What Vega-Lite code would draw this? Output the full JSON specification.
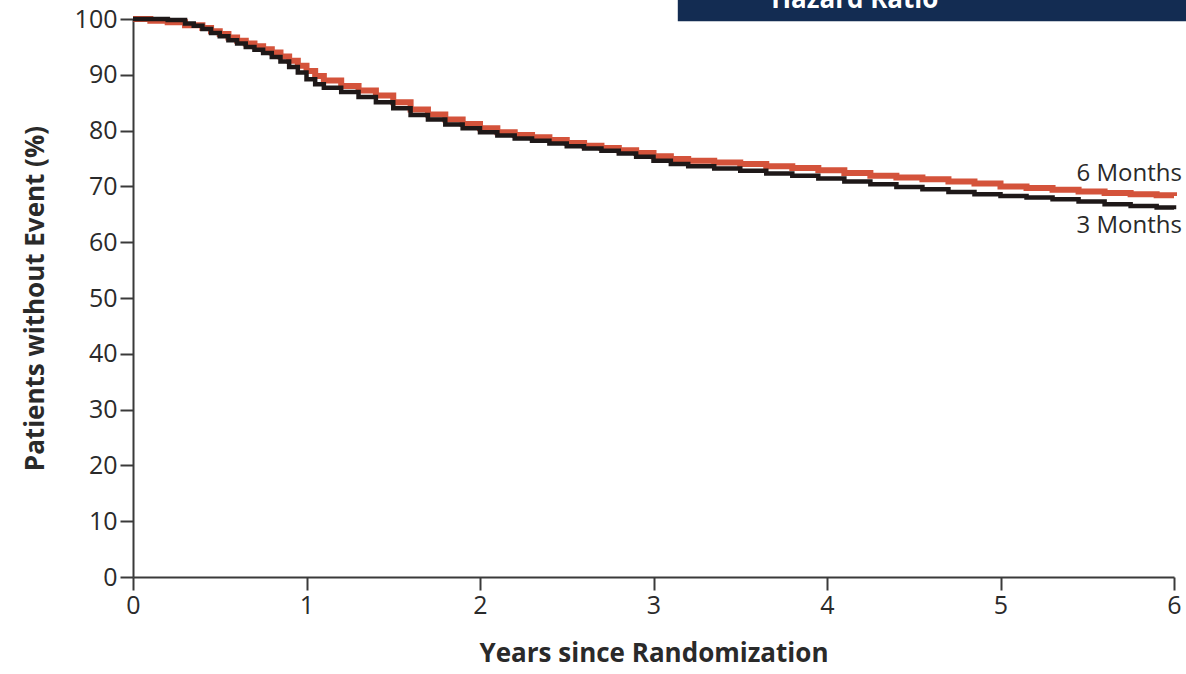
{
  "$schema": "https://vega.github.io/schema/vega-lite/v6.json",
  "autosize": "none",
  "width": 1041,
  "height": 558,
  "padding": {"left": 133, "top": 19, "right": 12, "bottom": 97},
  "background": "white",
  "config": {
    "view": {"stroke": null},
    "font": "Open Sans",
    "axis": {
      "grid": false,
      "domainColor": "#3a3a3a",
      "domainWidth": 2,
      "tickColor": "#3a3a3a",
      "tickWidth": 2,
      "tickSize": 13,
      "labelFont": "Open Sans",
      "labelFontSize": 25,
      "labelColor": "#2a2a2a",
      "labelFlush": false,
      "titleFont": "Open Sans",
      "titleFontSize": 26,
      "titleFontWeight": "bold",
      "titleColor": "#2a2a2a"
    }
  },
  "datasets": {
    "km3": [
      {"t": 0, "s": 100}, {"t": 0.1, "s": 100}, {"t": 0.2, "s": 99.8}, {"t": 0.3, "s": 99.2},
      {"t": 0.35, "s": 98.8}, {"t": 0.4, "s": 98.2}, {"t": 0.45, "s": 97.5}, {"t": 0.5, "s": 96.9},
      {"t": 0.55, "s": 96.2}, {"t": 0.6, "s": 95.6}, {"t": 0.65, "s": 95.0}, {"t": 0.7, "s": 94.5},
      {"t": 0.75, "s": 93.9}, {"t": 0.8, "s": 93.2}, {"t": 0.85, "s": 92.4}, {"t": 0.9, "s": 91.4},
      {"t": 0.95, "s": 90.4}, {"t": 1.0, "s": 89.2}, {"t": 1.05, "s": 88.3}, {"t": 1.1, "s": 87.7},
      {"t": 1.2, "s": 86.9}, {"t": 1.3, "s": 86.0}, {"t": 1.4, "s": 85.1}, {"t": 1.5, "s": 84.0},
      {"t": 1.6, "s": 82.8}, {"t": 1.7, "s": 82.0}, {"t": 1.8, "s": 81.1}, {"t": 1.9, "s": 80.4},
      {"t": 2.0, "s": 79.7}, {"t": 2.1, "s": 79.1}, {"t": 2.2, "s": 78.6}, {"t": 2.3, "s": 78.2},
      {"t": 2.4, "s": 77.7}, {"t": 2.5, "s": 77.2}, {"t": 2.6, "s": 76.8}, {"t": 2.7, "s": 76.4},
      {"t": 2.8, "s": 75.9}, {"t": 2.9, "s": 75.3}, {"t": 3.0, "s": 74.6}, {"t": 3.1, "s": 74.0},
      {"t": 3.2, "s": 73.6}, {"t": 3.35, "s": 73.2}, {"t": 3.5, "s": 72.8}, {"t": 3.65, "s": 72.3},
      {"t": 3.8, "s": 71.9}, {"t": 3.95, "s": 71.4}, {"t": 4.1, "s": 70.9}, {"t": 4.25, "s": 70.4},
      {"t": 4.4, "s": 69.9}, {"t": 4.55, "s": 69.5}, {"t": 4.7, "s": 69.0}, {"t": 4.85, "s": 68.6},
      {"t": 5.0, "s": 68.3}, {"t": 5.15, "s": 68.0}, {"t": 5.3, "s": 67.7}, {"t": 5.45, "s": 67.3},
      {"t": 5.6, "s": 66.8}, {"t": 5.75, "s": 66.5}, {"t": 5.9, "s": 66.2}, {"t": 6.0, "s": 65.9}
    ],
    "km6": [
      {"t": 0, "s": 100}, {"t": 0.1, "s": 99.7}, {"t": 0.2, "s": 99.4}, {"t": 0.3, "s": 98.9},
      {"t": 0.4, "s": 98.4}, {"t": 0.45, "s": 97.8}, {"t": 0.5, "s": 97.3}, {"t": 0.55, "s": 96.7},
      {"t": 0.6, "s": 96.1}, {"t": 0.65, "s": 95.6}, {"t": 0.7, "s": 95.1}, {"t": 0.75, "s": 94.6},
      {"t": 0.8, "s": 94.0}, {"t": 0.85, "s": 93.3}, {"t": 0.9, "s": 92.5}, {"t": 0.95, "s": 91.6},
      {"t": 1.0, "s": 90.7}, {"t": 1.05, "s": 89.8}, {"t": 1.1, "s": 89.0}, {"t": 1.2, "s": 88.0},
      {"t": 1.3, "s": 87.2}, {"t": 1.4, "s": 86.3}, {"t": 1.5, "s": 85.1}, {"t": 1.6, "s": 83.8},
      {"t": 1.7, "s": 82.9}, {"t": 1.8, "s": 82.0}, {"t": 1.9, "s": 81.2}, {"t": 2.0, "s": 80.4},
      {"t": 2.1, "s": 79.7}, {"t": 2.2, "s": 79.2}, {"t": 2.3, "s": 78.8}, {"t": 2.4, "s": 78.3},
      {"t": 2.5, "s": 77.8}, {"t": 2.6, "s": 77.3}, {"t": 2.7, "s": 76.9}, {"t": 2.8, "s": 76.5},
      {"t": 2.9, "s": 76.0}, {"t": 3.0, "s": 75.4}, {"t": 3.1, "s": 74.9}, {"t": 3.2, "s": 74.6},
      {"t": 3.35, "s": 74.3}, {"t": 3.5, "s": 74.0}, {"t": 3.65, "s": 73.6}, {"t": 3.8, "s": 73.3},
      {"t": 3.95, "s": 72.9}, {"t": 4.1, "s": 72.4}, {"t": 4.25, "s": 71.9}, {"t": 4.4, "s": 71.6},
      {"t": 4.55, "s": 71.3}, {"t": 4.7, "s": 70.9}, {"t": 4.85, "s": 70.5}, {"t": 5.0, "s": 70.0},
      {"t": 5.15, "s": 69.7}, {"t": 5.3, "s": 69.4}, {"t": 5.45, "s": 69.1}, {"t": 5.6, "s": 68.8},
      {"t": 5.75, "s": 68.6}, {"t": 5.9, "s": 68.4}, {"t": 6.0, "s": 68.3}
    ],
    "curveLabels": [
      {"t": 6, "s": 72.2, "label": "6 Months"},
      {"t": 6, "s": 62.9, "label": "3 Months"}
    ],
    "banner": [
      {"t0": 3.14, "t1": 6.2, "s0": 99.6, "s1": 106, "tc": 4.16, "sc": 102.0, "label": "Hazard Ratio"}
    ]
  },
  "layer": [
    {
      "data": {"name": "km6"},
      "mark": {"type": "line", "interpolate": "step-after", "color": "#d4533b", "strokeWidth": 6},
      "encoding": {
        "x": {
          "field": "t", "type": "quantitative",
          "scale": {"domain": [0, 6], "nice": false, "zero": false},
          "axis": {"values": [0, 1, 2, 3, 4, 5, 6], "format": "d", "title": "Years since Randomization", "titlePadding": 22, "labelPadding": 3}
        },
        "y": {
          "field": "s", "type": "quantitative",
          "scale": {"domain": [0, 100], "nice": false},
          "axis": {"values": [0, 10, 20, 30, 40, 50, 60, 70, 80, 90, 100], "format": "d", "title": "Patients without Event (%)", "titlePadding": 26, "labelPadding": 3}
        }
      }
    },
    {
      "data": {"name": "km3"},
      "mark": {"type": "line", "interpolate": "step-after", "color": "#1e1818", "strokeWidth": 4.5},
      "encoding": {
        "x": {"field": "t", "type": "quantitative"},
        "y": {"field": "s", "type": "quantitative"}
      }
    },
    {
      "data": {"name": "curveLabels"},
      "mark": {"type": "text", "align": "right", "baseline": "middle", "dx": 8, "fontSize": 24, "color": "#2a2a2a", "font": "Open Sans"},
      "encoding": {
        "x": {"field": "t", "type": "quantitative"},
        "y": {"field": "s", "type": "quantitative"},
        "text": {"field": "label"}
      }
    },
    {
      "data": {"name": "banner"},
      "mark": {"type": "rect", "color": "#132c52"},
      "encoding": {
        "x": {"field": "t0", "type": "quantitative"},
        "x2": {"field": "t1"},
        "y": {"field": "s0", "type": "quantitative"},
        "y2": {"field": "s1"}
      }
    },
    {
      "data": {"name": "banner"},
      "mark": {"type": "text", "align": "center", "baseline": "alphabetic", "fontSize": 26, "fontWeight": "bold", "color": "white", "font": "Open Sans"},
      "encoding": {
        "x": {"field": "tc", "type": "quantitative"},
        "y": {"field": "sc", "type": "quantitative"},
        "text": {"field": "label"}
      }
    }
  ]
}
